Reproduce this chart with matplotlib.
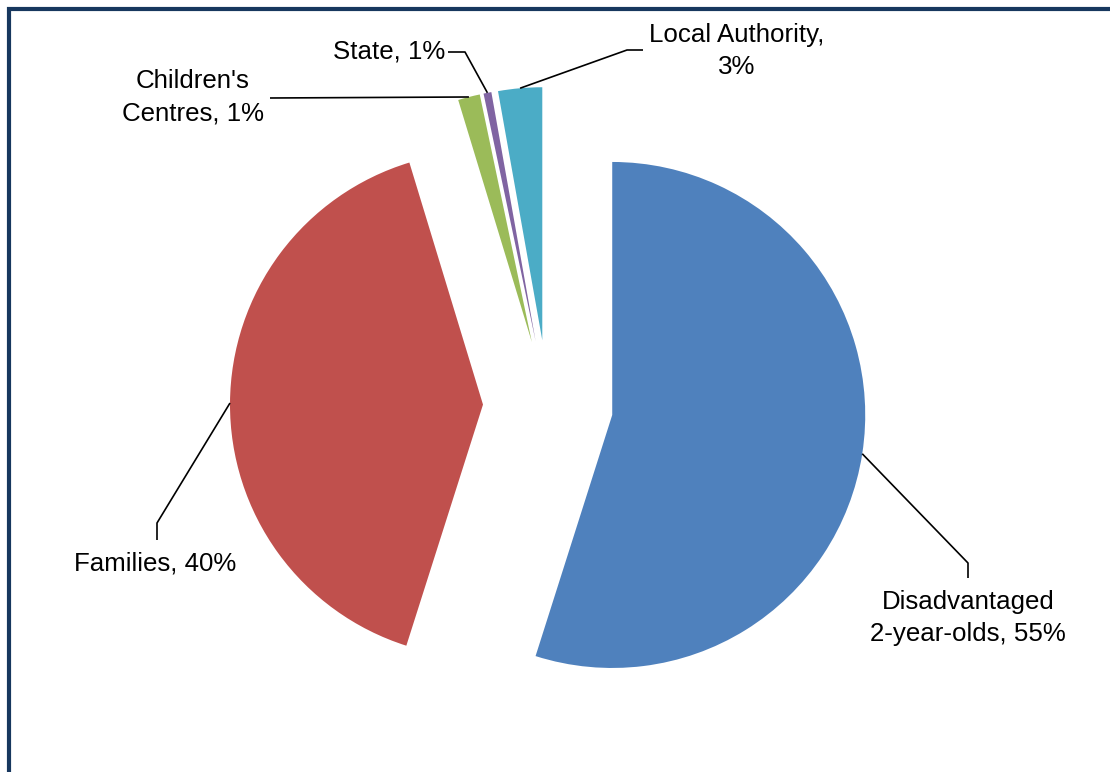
import matplotlib.pyplot as plt
import numpy as np
from matplotlib.patches import Rectangle

# 数据（按饼图顺时针顺序，从12点方向开始）
categories = ['Disadvantaged\n2-year-olds', 'Families', "Children's\nCentres", 'State', 'Local Authority,\n']
shares = [54.9, 40.4, 1.4, 0.5, 2.8]
pct_labels = ['55%', '40%', '1%', '1%', '3%']
colors = ['#4F81BD', '#C0504D', '#9BBB59', '#8064A2', '#4BACC6']

W, H = 1110, 772
plt.rcParams['font.family'] = ['Liberation Sans', 'DejaVu Sans']

fig = plt.figure(figsize=(W / 100, H / 100), dpi=100)
ax = fig.add_axes([0, 0, 1, 1])

# 饼图中心和半径（像素坐标，y 轴向上）；explode 为绝对距离
cx, cy, radius = 548, H - 405, 253
wedges, _ = ax.pie(shares, colors=colors, startangle=90, counterclock=False,
                   explode=[65] * len(shares), radius=radius, center=(cx, cy),
                   frame=True, wedgeprops=dict(linewidth=0))
ax.set_xlim(0, W)
ax.set_ylim(0, H)
ax.set_aspect('equal')
ax.axis('off')

# 标签位置和引线拐点（屏幕像素坐标，y 向下）
label_cfg = [
    dict(text='Disadvantaged\n2-year-olds, 55%', xy=(968, 618), ha='center', path=[(968, 563), (968, 578)]),
    dict(text='Families, 40%', xy=(155, 563), ha='center', path=[(157, 523), (157, 540)]),
    dict(text="Children's\nCentres, 1%", xy=(193, 97), ha='center', path=[(270, 98)]),
    dict(text='State, 1%', xy=(445, 52), ha='right', path=[(465, 52), (448, 52)]),
    dict(text='Local Authority,\n3%', xy=(737, 51), ha='center', path=[(627, 50), (643, 50)]),
]

for w, cfg in zip(wedges, label_cfg):
    mid = np.deg2rad((w.theta1 + w.theta2) / 2)
    sx = w.center[0] + w.r * np.cos(mid)
    sy = w.center[1] + w.r * np.sin(mid)
    xs = [sx] + [p[0] for p in cfg['path']]
    ys = [sy] + [H - p[1] for p in cfg['path']]
    ax.plot(xs, ys, color='black', lw=1.2, solid_capstyle='butt')
    ax.text(cfg['xy'][0], H - cfg['xy'][1], cfg['text'], ha=cfg['ha'], va='center',
            fontsize=18.6, linespacing=1.45, color='black')

# 外边框
fig.patches.append(Rectangle((9 / W, -0.1), 1.2, (H - 9) / H + 0.1, transform=fig.transFigure,
                             fill=False, edgecolor='#17375E', linewidth=3))

fig.savefig('out.png', dpi=100)
